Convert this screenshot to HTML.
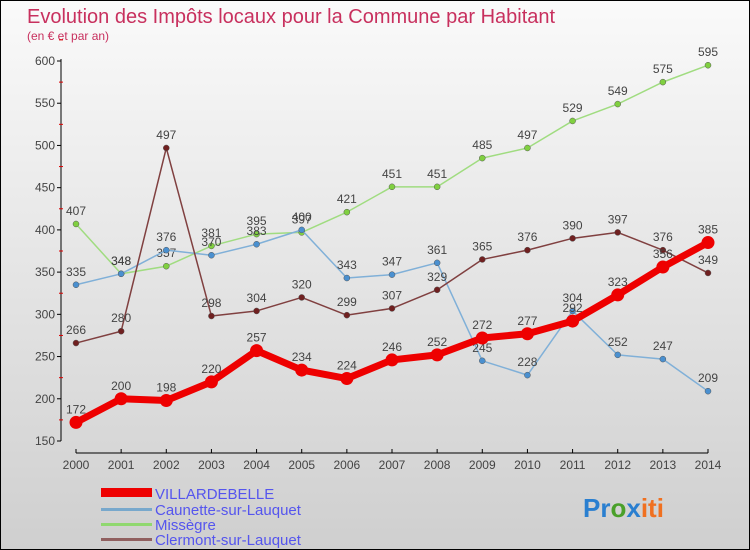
<!DOCTYPE html>
<html><head><meta charset="utf-8"><style>
body{margin:0}
#c{width:750px;height:550px;position:relative;box-sizing:border-box;border:1px solid #000;background:linear-gradient(#fafafa,#cfcfcf);overflow:hidden;font-family:"Liberation Sans",sans-serif}
</style></head><body>
<div id="c">
<svg id="s" width="748" height="548" style="position:absolute;left:0;top:0">
<text x="26" y="22" font-size="20" fill="#c8305e">Evolution des Impôts locaux pour la Commune par Habitant</text>
<text x="26" y="39" font-size="12" fill="#c8305e">(en € et par an)</text>
<g id="g"></g>
<g>
<rect x="100" y="487" width="51" height="9" fill="#e00"/>
<text x="154" y="498" font-size="15" fill="#5555ee">VILLARDEBELLE</text>
<rect x="100" y="507" width="51" height="3" fill="#78a8cc"/>
<text x="154" y="514" font-size="15" fill="#5555ee">Caunette-sur-Lauquet</text>
<rect x="100" y="522" width="51" height="3" fill="#90d870"/>
<text x="154" y="529" font-size="15" fill="#5555ee">Missègre</text>
<rect x="100" y="537" width="51" height="3" fill="#906060"/>
<text x="154" y="544" font-size="15" fill="#5555ee">Clermont-sur-Lauquet</text>
</g>
<text x="582" y="516" font-size="26" font-weight="bold"><tspan fill="#2a7fd0">Pr</tspan><tspan fill="#4aa02a">o</tspan><tspan fill="#2a7fd0">x</tspan><tspan fill="#f07020">iti</tspan></text>
</svg>
</div>
<script>
const years=[2000,2001,2002,2003,2004,2005,2006,2007,2008,2009,2010,2011,2012,2013,2014];
const yTicks=[150,200,250,300,350,400,450,500,550,600];
const villardebelle=[172,200,198,220,257,234,224,246,252,272,277,292,323,356,385];
const caunette=[335,348,376,370,383,400,343,347,361,245,228,304,252,247,209];
const missegre=[407,348,357,381,395,397,421,451,451,485,497,529,549,575,595];
const clermont=[266,280,497,298,304,320,299,307,329,365,376,390,397,376,349];
const NS="http://www.w3.org/2000/svg";
const g=document.getElementById('g');
const X=i=>75+i*(707-75)/(years.length-1);
const Y=v=>440-(v-150)*(380/450);
function el(t,a,p){const e=document.createElementNS(NS,t);for(const k in a)e.setAttribute(k,a[k]);(p||g).appendChild(e);return e;}
let a=el('line',{x1:60,y1:58,x2:60,y2:440,stroke:'#000'});

a=el('line',{x1:75,y1:452,x2:707,y2:452,stroke:'#000'});

yTicks.forEach(v=>{const y=Y(v);
 el('line',{x1:56,y1:y,x2:60,y2:y,stroke:'#000'});
 const m=el('line',{x1:58,y1:Y(v+25),x2:62,y2:Y(v+25),stroke:'#d00'});
 const t=el('text',{x:54,y:y+4,'font-size':12,fill:'#444','text-anchor':'end'});t.textContent=v;
 });
years.forEach((yr,i)=>{el('line',{x1:X(i),y1:448,x2:X(i),y2:452,stroke:'#000'});
 const t=el('text',{x:X(i),y:468,'font-size':12,fill:'#444','text-anchor':'middle'});t.textContent=yr;
 });
function series(d,color,dot,w,r,name){
 const p=el('polyline',{points:d.map((v,i)=>X(i)+','+Y(v)).join(' '),fill:'none',stroke:color,'stroke-width':w,'stroke-linejoin':'round'});
 
 d.forEach((v,i)=>{const c=el('circle',{cx:X(i),cy:Y(v),r:r,fill:dot,stroke:w>3?'none':'#555','stroke-width':0.5});
  
  const t=el('text',{x:X(i),y:Y(v)-9,'font-size':12,fill:'#444','text-anchor':'middle'});t.textContent=v;
  });
}
series(missegre,'#a0dc80','#80d040',1.5,3,'missegre');
series(caunette,'#80b0d8','#4a90d0',1.5,3,'caunette');
series(clermont,'#804040','#702020',1.5,3,'clermont');
series(villardebelle,'#ee0000','#ee0000',7,6.5,'villardebelle');
</script>
</body></html>
